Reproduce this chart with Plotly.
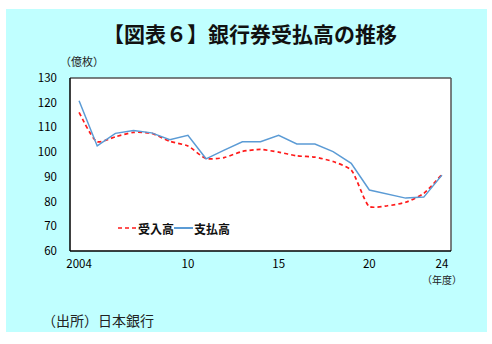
import plotly.graph_objects as go

years = list(range(2004, 2025))
receipts = [116.1, 104.2, 106.2, 108.0, 107.6, 104.4, 102.5, 97.4, 97.8, 100.3, 101.1, 100.0,
            98.5, 98.0, 96.2, 92.8, 78.0, 78.3, 79.7, 83.3, 91.0]   # 受入高
payments = [120.8, 102.5, 107.6, 108.8, 107.8, 105.0, 106.8, 97.3, 100.8, 104.2, 104.2, 106.8,
            103.3, 103.3, 100.2, 95.5, 84.7, 83.0, 81.4, 81.8, 90.7]  # 支払高
series_names = ["受入高", "支払高"]
xtick_vals = [2004, 2010, 2015, 2020, 2024]
xtick_text = ["2004", "10", "15", "20", "24"]
ytick_vals = [60, 70, 80, 90, 100, 110, 120, 130]

W, H = 492, 344
L, R, T, B = 70, 451, 78, 251
FONT = "Noto Sans CJK JP"
RED, BLUE = "#FF1A1A", "#5B9BD5"
RED_DASH = "4px,3px"

def px(x):
    return (x - L) / (R - L)

def py(y):
    return (B - y) / (B - T)

fig = go.Figure()
fig.add_trace(go.Scatter(x=years, y=receipts, name=series_names[0], mode="lines",
                         line=dict(color=RED, width=1.7, dash=RED_DASH, shape="spline", smoothing=0.6)))
fig.add_trace(go.Scatter(x=years, y=payments, name=series_names[1], mode="lines",
                         line=dict(color=BLUE, width=1.5)))

shapes = [
    dict(type="rect", xref="paper", yref="paper", x0=px(6), x1=px(487), y0=py(9), y1=py(332),
         fillcolor="#C0FFFF", line=dict(width=0), layer="below"),
    dict(type="rect", xref="paper", yref="paper", x0=0, x1=1, y0=0, y1=1,
         fillcolor="white", line=dict(width=0), layer="below"),
    dict(type="line", xref="paper", yref="paper", x0=0, x1=1, y0=1, y1=1,
         line=dict(color="#555555", width=1.5)),
    dict(type="line", xref="paper", yref="paper", x0=1, x1=1, y0=0, y1=1,
         line=dict(color="#555555", width=1.5)),
    dict(type="line", xref="paper", yref="paper", x0=0, x1=0, y0=0, y1=1,
         line=dict(color="black", width=1.5)),
    dict(type="line", xref="paper", yref="paper", x0=0, x1=1, y0=0, y1=0,
         line=dict(color="black", width=1.5)),
    # legend samples
    dict(type="line", xref="paper", yref="paper", x0=px(118), x1=px(136), y0=py(228), y1=py(228),
         line=dict(color=RED, width=1.7, dash=RED_DASH)),
    dict(type="line", xref="paper", yref="paper", x0=px(174), x1=px(193), y0=py(228), y1=py(228),
         line=dict(color=BLUE, width=2)),
]

annotations = [
    dict(text="<b>【図表６】銀行券受払高の推移</b>", xref="paper", yref="paper", x=px(250), y=py(33),
         showarrow=False, font=dict(family=FONT, size=21, color="#111111"), xanchor="center", yanchor="middle"),
    dict(text="（億枚）", xref="paper", yref="paper", x=px(82), y=py(61),
         showarrow=False, font=dict(family=FONT, size=11, color="#222222"), xanchor="center", yanchor="middle"),
    dict(text="（年度）", xref="paper", yref="paper", x=px(442), y=py(279),
         showarrow=False, font=dict(family=FONT, size=10, color="#222222"), xanchor="center", yanchor="middle"),
    dict(text="（出所）日本銀行", xref="paper", yref="paper", x=px(40), y=py(320),
         showarrow=False, font=dict(family=FONT, size=14, color="#222222"), xanchor="left", yanchor="middle"),
    dict(text="<b>" + series_names[0] + "</b>", xref="paper", yref="paper", x=px(136), y=py(228),
         showarrow=False, font=dict(family=FONT, size=12, color="#111111"), xanchor="left", yanchor="middle"),
    dict(text="<b>" + series_names[1] + "</b>", xref="paper", yref="paper", x=px(192), y=py(228),
         showarrow=False, font=dict(family=FONT, size=12, color="#111111"), xanchor="left", yanchor="middle"),
]

fig.update_layout(
    width=W, height=H,
    margin=dict(l=L, r=W - R, t=T, b=H - B),
    paper_bgcolor="white", plot_bgcolor="rgba(0,0,0,0)",
    shapes=shapes, annotations=annotations,
    font=dict(family=FONT, size=11, color="black"),
    showlegend=False,
    xaxis=dict(range=[2003.5, 2024.5], tickvals=xtick_vals, ticktext=xtick_text,
               showgrid=False, zeroline=False, showline=False, ticks="", ticklabelstandoff=4,
               tickfont=dict(family=FONT, size=11.5, color="black")),
    yaxis=dict(range=[60, 130], tickvals=ytick_vals, showgrid=False, zeroline=False,
               showline=False, ticks="", ticklabelstandoff=12,
               tickfont=dict(family=FONT, size=11.5, color="black")),
)

fig.write_html("out.html")
